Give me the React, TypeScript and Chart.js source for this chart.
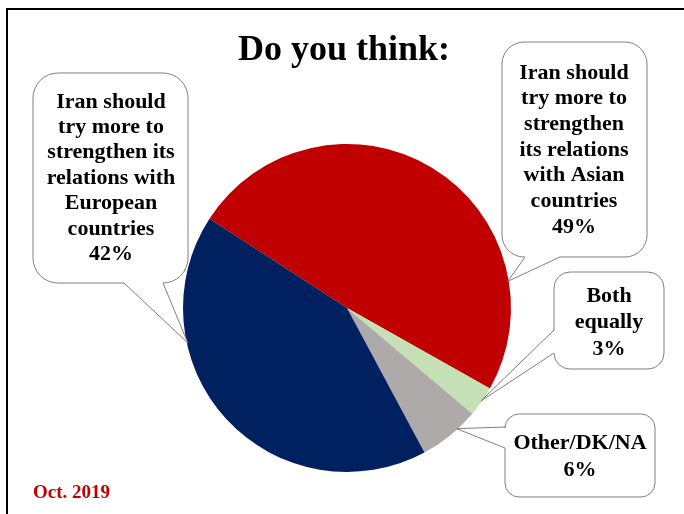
import React, { useEffect, useRef } from "react";
import { Chart, registerables } from "chart.js";

Chart.register(...registerables);

// ---- data ----
const categories = [
  "Iran should try more to strengthen its relations with Asian countries",
  "Both equally",
  "Other/DK/NA",
  "Iran should try more to strengthen its relations with European countries",
];
const values = [49, 3, 6, 42];
const sliceColors = ["#C00000", "#C5E0B4", "#AEAAAA", "#002060"];
const calloutLines = [
  ["Iran should", "try more to", "strengthen", "its relations", "with Asian", "countries"],
  ["Both", "equally"],
  ["Other/DK/NA"],
  ["Iran should", "try more to", "strengthen its", "relations with", "European", "countries"],
];
const titleText = "Do you think:";
const dateText = "Oct. 2019";

// ---- callout layout (per slice index) ----
type Bubble = {
  x: number; y: number; w: number; h: number; r: number;
  side: "bottom" | "left"; p1: number; p2: number;
  tipFrac: number; cx: number; y0: number; lh: number;
};
const bubbles: Bubble[] = [
  { x: 502, y: 42, w: 145, h: 215, r: 22, side: "bottom", p1: 525, p2: 560, tipFrac: 0.78, cx: 574, y0: 73, lh: 25.7 },
  { x: 554, y: 272, w: 110, h: 97, r: 16, side: "left", p1: 330, p2: 353, tipFrac: 0.5, cx: 609, y0: 296, lh: 26.5 },
  { x: 505, y: 414, w: 150, h: 83, r: 14, side: "left", p1: 427, p2: 448, tipFrac: 0.35, cx: 580, y0: 443, lh: 27 },
  { x: 33, y: 73, w: 155, h: 210, r: 25, side: "bottom", p1: 124, p2: 163, tipFrac: 0.7, cx: 111, y0: 102, lh: 25.4 },
];

function bubblePath(ctx: CanvasRenderingContext2D, b: Bubble, tx: number, ty: number) {
  const { x, y, w, h, r } = b;
  ctx.beginPath();
  ctx.moveTo(x + r, y);
  ctx.lineTo(x + w - r, y);
  ctx.arcTo(x + w, y, x + w, y + r, r);
  ctx.lineTo(x + w, y + h - r);
  ctx.arcTo(x + w, y + h, x + w - r, y + h, r);
  if (b.side === "bottom") {
    ctx.lineTo(b.p2, y + h);
    ctx.lineTo(tx, ty);
    ctx.lineTo(b.p1, y + h);
  }
  ctx.lineTo(x + r, y + h);
  ctx.arcTo(x, y + h, x, y + h - r, r);
  if (b.side === "left") {
    ctx.lineTo(x, b.p2);
    ctx.lineTo(tx, ty);
    ctx.lineTo(x, b.p1);
  }
  ctx.lineTo(x, y + r);
  ctx.arcTo(x, y, x + r, y, r);
  ctx.closePath();
}

const decorPlugin = {
  id: "decor",
  beforeDraw(chart: any) {
    const ctx = chart.ctx as CanvasRenderingContext2D;
    ctx.save();
    ctx.fillStyle = "#ffffff";
    ctx.fillRect(0, 0, chart.width, chart.height);
    ctx.strokeStyle = "#000000";
    ctx.lineWidth = 2;
    ctx.beginPath();
    ctx.moveTo(7, chart.height + 2);
    ctx.lineTo(7, 9);
    ctx.lineTo(chart.width + 2, 9);
    ctx.stroke();
    // title
    ctx.fillStyle = "#000000";
    ctx.font = "bold 36px 'Liberation Serif', 'Times New Roman', serif";
    ctx.textAlign = "center";
    ctx.textBaseline = "alphabetic";
    ctx.fillText(titleText, 344, 60);
    // date
    ctx.fillStyle = "#C00000";
    ctx.font = "bold 19px 'Liberation Serif', 'Times New Roman', serif";
    ctx.textAlign = "left";
    ctx.fillText(dateText, 33, 498);
    ctx.restore();
  },
  afterDraw(chart: any) {
    const ctx = chart.ctx as CanvasRenderingContext2D;
    const meta = chart.getDatasetMeta(0);
    ctx.save();
    meta.data.forEach((arc: any, i: number) => {
      const b = bubbles[i];
      const a = arc.startAngle + (arc.endAngle - arc.startAngle) * b.tipFrac;
      const tx = arc.x + Math.cos(a) * (arc.outerRadius - 1);
      const ty = arc.y + Math.sin(a) * (arc.outerRadius - 1);
      bubblePath(ctx, b, tx, ty);
      ctx.fillStyle = "#ffffff";
      ctx.fill();
      ctx.strokeStyle = "#808080";
      ctx.lineWidth = 1;
      ctx.stroke();
      const lines = [...calloutLines[i], `${values[i]}%`];
      ctx.fillStyle = "#000000";
      ctx.font = "bold 22px 'Liberation Serif', 'Times New Roman', serif";
      ctx.textAlign = "center";
      ctx.textBaseline = "middle";
      lines.forEach((ln, k) => ctx.fillText(ln, b.cx, b.y0 + k * b.lh));
    });
    ctx.restore();
  },
};

export default function App() {
  const ref = useRef<HTMLCanvasElement | null>(null);
  useEffect(() => {
    document.body.style.margin = "0";
    const canvas = ref.current!;
    const chart = new Chart(canvas, {
      type: "pie",
      data: {
        labels: categories,
        datasets: [
          {
            data: values,
            backgroundColor: sliceColors,
            borderWidth: 0,
          },
        ],
      },
      options: {
        responsive: false,
        animation: false,
        devicePixelRatio: 1,
        rotation: -57,
        layout: { padding: { left: 183, right: 173, top: 144, bottom: 42 } },
        plugins: {
          legend: { display: false },
          title: { display: false },
          tooltip: { enabled: false },
        },
      },
      plugins: [decorPlugin],
    });
    return () => chart.destroy();
  }, []);
  return (
    <div style={{ width: 684, height: 514, overflow: "hidden" }}>
      <canvas ref={ref} width={684} height={514} style={{ display: "block" }} />
    </div>
  );
}
